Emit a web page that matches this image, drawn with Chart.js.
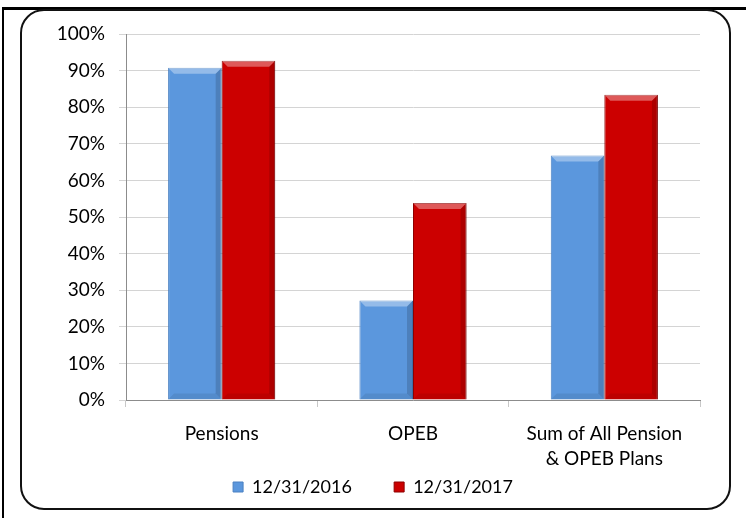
<!DOCTYPE html>
<html lang="en">
<head>
    <meta charset="UTF-8">
    <title>Funded Ratio</title>
    <style>
        body {
            margin: 0;
            padding: 0;
            background: #ffffff;
            width: 746px;
            height: 518px;
            overflow: hidden;
            position: relative;
        }

        /* outer frame, cut off at the right and bottom */
        .outer {
            position: absolute;
            left: 2px;
            top: 7px;
            width: 760px;
            height: 530px;
            border-top: 3px solid #000;
            border-left: 2px solid #000;
        }

        /* rounded chart border */
        .frame {
            position: absolute;
            left: 20px;
            top: 9px;
            width: 707px;
            height: 497px;
            border: 2px solid #111;
            border-radius: 24px;
            background: #fff;
        }

        canvas {
            position: absolute;
            left: 0;
            top: 0;
        }
    </style>
</head>
<body>
    <div class="outer"></div>
    <div class="frame"></div>
    <canvas id="ratioChart" width="746" height="518"></canvas>

    <script src="https://cdn.jsdelivr.net/npm/chart.js"></script>
    <script>
        // data
        const categories = ['Pensions', 'OPEB', ['Sum of All Pension', '& OPEB Plans']];
        const seriesNames = ['12/31/2016', '12/31/2017'];
        const values2016 = [90.8, 27.2, 66.8];
        const values2017 = [92.7, 53.8, 83.4];
        const yTicks = [0, 10, 20, 30, 40, 50, 60, 70, 80, 90, 100];

        const FONT = 'Lato, "Noto Sans", sans-serif';

        // soft bevel on top of every bar, like the office 3d look
        const bevelPlugin = {
            id: 'bevel',
            afterDatasetsDraw(chart) {
                const ctx = chart.ctx;
                chart.data.datasets.forEach((ds, i) => {
                    chart.getDatasetMeta(i).data.forEach(bar => {
                        const l = bar.x - bar.width / 2;
                        const r = bar.x + bar.width / 2;
                        const t = bar.y;
                        const b = bar.base;
                        const d = Math.min(6, (b - t) / 2);
                        ctx.save();
                        // top light edge
                        ctx.fillStyle = 'rgba(255,255,255,0.35)';
                        ctx.beginPath();
                        ctx.moveTo(l, t); ctx.lineTo(r, t);
                        ctx.lineTo(r - d, t + d); ctx.lineTo(l + d, t + d);
                        ctx.closePath(); ctx.fill();
                        // right dark edge
                        ctx.fillStyle = 'rgba(0,0,0,0.15)';
                        ctx.beginPath();
                        ctx.moveTo(r, t); ctx.lineTo(r, b);
                        ctx.lineTo(r - d, b - d); ctx.lineTo(r - d, t + d);
                        ctx.closePath(); ctx.fill();
                        // bottom dark edge
                        ctx.fillStyle = 'rgba(0,0,0,0.08)';
                        ctx.beginPath();
                        ctx.moveTo(l, b); ctx.lineTo(r, b);
                        ctx.lineTo(r - d, b - d); ctx.lineTo(l + d, b - d);
                        ctx.closePath(); ctx.fill();
                        ctx.restore();
                    });
                });
            }
        };

        const ctx = document.getElementById('ratioChart').getContext('2d');
        new Chart(ctx, {
            type: 'bar',
            data: {
                labels: categories,
                datasets: [
                    {
                        label: seriesNames[0],
                        data: values2016,
                        backgroundColor: '#5b97dd',
                        borderColor: '#4a80c2',
                        borderWidth: 1,
                        categoryPercentage: 0.56,
                        barPercentage: 1.0
                    },
                    {
                        label: seriesNames[1],
                        data: values2017,
                        backgroundColor: '#cc0000',
                        borderColor: '#8e0000',
                        borderWidth: 1,
                        categoryPercentage: 0.56,
                        barPercentage: 1.0
                    }
                ]
            },
            options: {
                responsive: false,
                animation: false,
                layout: {
                    padding: { left: 0, right: 0, top: 34, bottom: 12 }
                },
                plugins: {
                    legend: {
                        position: 'bottom',
                        labels: {
                            boxWidth: 10,
                            boxHeight: 10,
                            padding: 10,
                            color: '#000',
                            font: { family: FONT, size: 18 },
                            // wider gap between the two entries
                            generateLabels(chart) {
                                const items = Chart.defaults.plugins.legend.labels.generateLabels(chart);
                                items.forEach((it, i) => {
                                    if (i < items.length - 1) it.text = it.text + '\u00a0'.repeat(7);
                                });
                                return items;
                            }
                        }
                    },
                    tooltip: { enabled: false }
                },
                scales: {
                    x: {
                        afterFit(scale) { scale.height = 68; },
                        grid: {
                            display: true,
                            drawOnChartArea: false,
                            offset: true,
                            tickLength: 7,
                            color: '#c8c8c8'
                        },
                        border: { color: '#8c8c8c' },
                        ticks: {
                            color: '#000',
                            padding: 15,
                            font: { family: FONT, size: 19, lineHeight: 1.3 }
                        }
                    },
                    y: {
                        min: 0,
                        max: 100,
                        afterFit(scale) { scale.width = 126; },
                        afterBuildTicks(scale) {
                            scale.ticks = yTicks.map(v => ({ value: v }));
                        },
                        grid: {
                            color: '#d4d4d4',
                            tickLength: 7
                        },
                        border: { color: '#8c8c8c' },
                        ticks: {
                            color: '#000',
                            padding: 14,
                            font: { family: FONT, size: 19 },
                            callback: v => v + '%'
                        }
                    },
                    // empty axis on the right, only keeps the plot narrower than the legend row
                    spacer: {
                        position: 'right',
                        display: true,
                        afterFit(scale) { scale.width = 46; },
                        grid: { display: false, drawOnChartArea: false },
                        border: { display: false },
                        ticks: { display: false }
                    }
                }
            },
            plugins: [bevelPlugin]
        });
    </script>
</body>
</html>
